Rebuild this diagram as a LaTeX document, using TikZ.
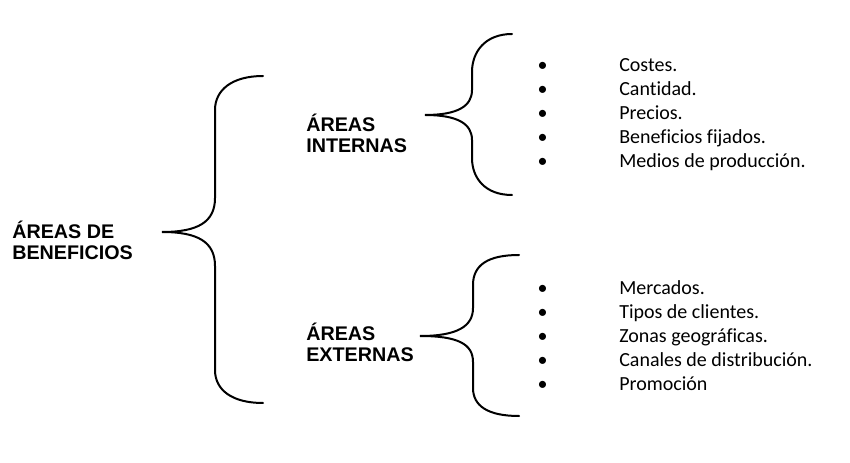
\documentclass[tikz,border=0pt]{standalone}
\usepackage{fontspec}
\setmainfont{Carlito}[Ligatures=NoCommon]
\newfontfamily\arialfont{Liberation Sans}
\begin{document}
\begin{tikzpicture}[x=0.75pt,y=-0.75pt,
  brace/.style={line width=1.5pt, line cap=round},
  head/.style={font=\arialfont\bfseries\fontsize{14.8}{16}\selectfont, align=left, anchor=base west, inner sep=0pt},
  item/.style={font=\fontsize{15}{17}\selectfont, anchor=base west, inner sep=0pt},
  bul/.style={font=\fontsize{15}{17}\selectfont, anchor=base, inner sep=0pt}
]
\useasboundingbox (0,0) rectangle (850,463);

% labels (anchor at baseline of last line)
\node[head] (main) at (12,260) {ÁREAS DE\\BENEFICIOS};
\node[head] (int) at (306,153) {ÁREAS\\INTERNAS};
\node[head] (ext) at (306,362) {ÁREAS\\EXTERNAS};

% big brace
\coordinate (t0) at (162,232);
\coordinate (a0) at (263,76);
\coordinate (b0) at (263,403);
\draw[brace] (a0) .. controls (232,76) and (215,90) .. (215,110)
  -- (215,198) .. controls (215,222) and (198,232) .. (t0)
  .. controls (198,232) and (215,242) .. (215,266)
  -- (215,370) .. controls (215,390) and (232,403) .. (b0);

% internal brace
\coordinate (t1) at (425,115);
\coordinate (a1) at (512,34);
\coordinate (b1) at (512,195);
\draw[brace] (a1) .. controls (485,34) and (472,52) .. (472,72)
  -- (472,90) .. controls (472,106) and (458,115) .. (t1)
  .. controls (458,115) and (472,124) .. (472,140)
  -- (472,158) .. controls (472,178) and (485,195) .. (b1);

% external brace
\coordinate (t2) at (420,336);
\coordinate (a2) at (519,255);
\coordinate (b2) at (519,416);
\draw[brace] (a2) .. controls (488,255) and (473,265) .. (473,285)
  -- (473,308) .. controls (473,326) and (458,336) .. (t2)
  .. controls (458,336) and (473,344) .. (473,362)
  -- (473,388) .. controls (473,406) and (488,416) .. (b2);

% internal list
\node[bul] (bi1) at (542.7,72) {•};
\node[bul] (bi2) at (542.7,96) {•};
\node[bul] (bi3) at (542.7,120) {•};
\node[bul] (bi4) at (542.7,144) {•};
\node[bul] (bi5) at (542.7,168) {•};
\node[item] (i1) at (619,72) {Costes.};
\node[item] (i2) at (619,96) {Cantidad.};
\node[item] (i3) at (619,120) {Precios.};
\node[item] (i4) at (619,144) {Beneficios fijados.};
\node[item] (i5) at (619,168) {Medios de producción.};

% external list
\node[bul] (be1) at (542.7,295) {•};
\node[bul] (be2) at (542.7,319) {•};
\node[bul] (be3) at (542.7,343) {•};
\node[bul] (be4) at (542.7,367) {•};
\node[bul] (be5) at (542.7,391) {•};
\node[item] (e1) at (619,295) {Mercados.};
\node[item] (e2) at (619,319) {Tipos de clientes.};
\node[item] (e3) at (619,343) {Zonas geográficas.};
\node[item] (e4) at (619,367) {Canales de distribución.};
\node[item] (e5) at (619,391) {Promoción};
\end{tikzpicture}
\end{document}
